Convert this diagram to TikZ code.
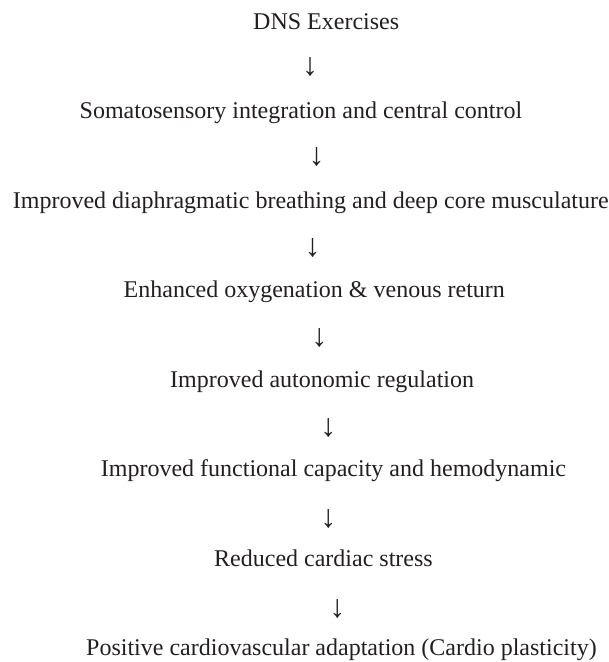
\documentclass[tikz,border=0pt]{standalone}
\usepackage{fontspec}
\setmainfont{Liberation Serif}
\definecolor{ink}{HTML}{231F20}
\begin{document}
\begin{tikzpicture}[x=1pt,y=-1pt,
  lbl/.style={anchor=base west,inner sep=0pt,text=ink,font=\fontsize{24}{28}\selectfont},
  arr/.style={anchor=center,inner sep=0pt,text=ink,font=\fontsize{32}{36}\selectfont}]
\useasboundingbox (0,0) rectangle (609,662);
\node[lbl] (t1) at (253,29) {DNS Exercises};
\node[arr] (a1) at (310,66.5) {↓};
\node[lbl] (t2) at (79.5,118.5) {Somatosensory integration and central control};
\node[arr] (a2) at (316.7,157) {↓};
\node[lbl] (t3) at (12.7,208) {Improved diaphragmatic breathing and deep core musculature};
\node[arr] (a3) at (312.7,247.5) {↓};
\node[lbl] (t4) at (123.5,297.5) {Enhanced oxygenation \& venous return};
\node[arr] (a4) at (319.3,338) {↓};
\node[lbl] (t5) at (170,387) {Improved autonomic regulation};
\node[arr] (a5) at (328.3,428) {↓};
\node[lbl] (t6) at (100.7,476.5) {Improved functional capacity and hemodynamic};
\node[arr] (a6) at (328.3,518.5) {↓};
\node[lbl] (t7) at (214,566) {Reduced cardiac stress};
\node[arr] (a7) at (337.3,609) {↓};
\node[lbl] (t8) at (86,655.5) {Positive cardiovascular adaptation (Cardio plasticity)};
\end{tikzpicture}
\end{document}
